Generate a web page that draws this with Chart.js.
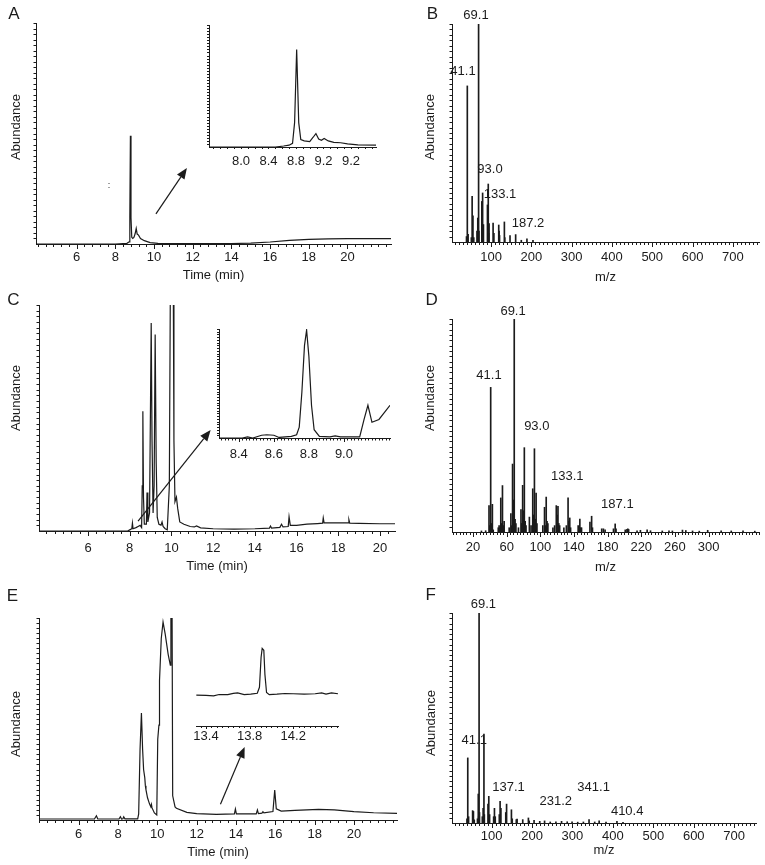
<!DOCTYPE html>
<html>
<head>
<meta charset="utf-8">
<script src="https://cdn.jsdelivr.net/npm/chart.js@4.4.1/dist/chart.umd.min.js"></script>
<style>
  html, body { margin: 0; padding: 0; background: #fff; }
  #page { position: relative; width: 765px; height: 865px; overflow: hidden; background: #fff; }
  #page canvas { position: absolute; }
</style>
</head>
<body>
<div id="page">
  <canvas id="chartA"></canvas>
  <canvas id="chartB"></canvas>
  <canvas id="chartC"></canvas>
  <canvas id="chartD"></canvas>
  <canvas id="chartE"></canvas>
  <canvas id="chartF"></canvas>
  <canvas id="insetA"></canvas>
  <canvas id="insetC"></canvas>
  <canvas id="insetE"></canvas>
</div>
<script>
// --- data (abundance in % of the axis height) ---

// A: chromatogram + inset
const aTime  = [3.9, 8.0, 8.6, 8.72, 8.75, 8.78, 8.81, 8.85, 8.9, 8.96, 9.02, 9.08, 9.13, 9.2, 9.3, 9.5, 9.8, 10.2, 12, 14, 15, 16, 17, 18, 19, 20, 22.25];
const aAbund = [0, 0, 0.3, 1, 12, 49, 12, 3, 2.5, 3, 4.5, 7, 4.5, 4, 2.5, 1.5, 0.6, 0.3, 0.2, 0.2, 0.4, 0.9, 1.6, 2.1, 2.3, 2.4, 2.4];
const aTicks = [6, 8, 10, 12, 14, 16, 18, 20];
const aInTime  = [7.535, 8.5, 8.62, 8.7, 8.75, 8.78, 8.81, 8.84, 8.87, 8.92, 9.0, 9.05, 9.09, 9.13, 9.17, 9.21, 9.27, 9.35, 9.45, 9.55, 9.7, 9.964];
const aInAbund = [0, 0, 0.8, 1.5, 3, 20, 80, 20, 6, 5, 4.5, 8, 11, 6.5, 5.5, 7, 5, 3.8, 3.5, 2.5, 1.8, 1.5];
const aInTicks  = [8.0, 8.4, 8.8, 9.2, 9.6];
const aInLabels = ['8.0', '8.4', '8.8', '9.2', '9.2'];

// B: mass spectrum
const bMz = [39, 41, 43, 51, 53, 55, 57, 65, 67, 68, 69, 70, 77, 79, 80, 81, 91, 93, 94, 95, 105, 107, 119, 120, 121, 133, 134, 147, 161, 175, 189, 204];
const bAb = [2.5, 71.6, 3.5, 2, 21, 12, 2, 5, 11, 3, 100, 5, 18.6, 22.5, 4, 8, 17, 26.6, 4, 8.4, 8.7, 4, 7.8, 5, 3, 9.2, 2, 3, 3.4, 0.8, 1.4, 0.8];
const bTicks = [100, 200, 300, 400, 500, 600, 700];
const bPeakText = ['69.1', '41.1', '93.0', '133.1', '187.2'];
const bPeakX = [62.6, 30.3, 97.3, 122.2, 191.7];
const bPeakY = [104.1, 78.4, 33.5, 22, 8.7];

// C: chromatogram + inset
const cTime  = [3.65, 7.9, 8.0, 8.1, 8.13, 8.16, 8.3, 8.4, 8.5, 8.57, 8.6, 8.63, 8.66, 8.7, 8.8, 8.83, 8.87, 8.95, 9.0, 9.03, 9.07, 9.12, 9.17, 9.22, 9.27, 9.32, 9.4, 9.5, 9.55, 9.6, 9.7, 9.8, 9.9, 9.96, 10.08, 10.12, 10.17, 10.24, 10.3, 10.4, 10.6, 10.9, 11.1, 11.2, 11.4, 12, 13, 14, 14.7, 14.75, 14.8, 15.2, 15.28, 15.35, 15.6, 15.64, 15.7, 16, 16.5, 17, 17.25, 17.28, 17.32, 18, 18.48, 18.51, 18.55, 19, 20, 20.72];
const cAbund = [0, 0, 0.5, 1, 3.5, 1, 1.5, 2, 2.5, 1.5, 20, 53, 15, 3, 3, 17, 4, 8, 60, 92, 40, 8, 20, 87, 30, 6, 3, 2.6, 4, 2, 1, 0.5, 20, 130, 130, 40, 13, 15, 10, 4, 3, 2, 1.8, 2.2, 1.4, 1, 0.8, 1, 1.3, 2.2, 1.3, 1.6, 3, 1.8, 2, 6.3, 2.5, 2.5, 3, 3.3, 3.5, 5.8, 3.6, 3.6, 3.6, 5, 3.5, 3.4, 3.2, 3.2];
const cTicks = [6, 8, 10, 12, 14, 16, 18, 20];
const cInTime  = [8.287, 8.42, 8.45, 8.48, 8.53, 8.56, 8.6, 8.63, 8.7, 8.73, 8.745, 8.76, 8.775, 8.787, 8.8, 8.815, 8.83, 8.86, 8.92, 8.95, 8.98, 9.09, 9.115, 9.137, 9.16, 9.2, 9.263];
const cInAbund = [0, 0, 1, 0, 2.5, 3, 2.5, 0.5, 1.5, 3, 10, 42, 85, 99, 75, 30, 7.6, 1.5, 1, 2, 1, 1, 17, 30, 14.4, 17, 30];
const cInTicks  = [8.4, 8.6, 8.8, 9.0];
const cInLabels = ['8.4', '8.6', '8.8', '9.0'];

// D: mass spectrum
const dMz = [30, 35, 39, 40, 41, 42, 43, 44, 50, 51, 52, 53, 54, 55, 56, 57, 63, 65, 66, 67, 68, 69, 70, 71, 74, 77, 78, 79, 80, 81, 82, 83, 87, 89, 91, 92, 93, 94, 95, 96, 103, 105, 106, 107, 108, 109, 115, 117, 119, 120, 121, 122, 123, 128, 131, 133, 134, 135, 136, 145, 147, 148, 149, 159, 161, 162, 173, 175, 177, 187, 189, 190, 201, 203, 204, 205, 215, 219, 227, 231, 245, 253, 257, 269, 273, 281, 289, 299, 315, 327, 341, 355];
const dAb = [0.5, 0.6, 12.4, 3, 67.9, 4, 13, 1, 2, 3, 2, 16, 4, 21.8, 3, 5, 2, 8.6, 3, 31.9, 15, 100, 6, 4, 2, 10.5, 4, 21.9, 10, 39.6, 5, 3, 7, 3, 20.3, 8, 39.1, 6, 18.3, 4, 3, 11.6, 3, 16.4, 5, 4, 2, 3, 12.4, 8, 12, 4, 3, 2, 3, 16, 5, 6.6, 2, 3, 6.1, 2, 2, 4.7, 7.4, 2, 1.5, 1.5, 1, 1.5, 3.8, 1.5, 1, 1.2, 1.5, 1.2, 0.6, 0.8, 1, 0.6, 0.5, 0.6, 0.5, 0.9, 0.7, 0.5, 0.4, 0.8, 0.5, 0.5, 0.5, 0.4];
const dTicks = [20, 60, 100, 140, 180, 220, 260, 300];
const dPeakText = ['69.1', '41.1', '93.0', '133.1', '187.1'];
const dPeakX = [67.6, 39.0, 95.8, 132.1, 191.6];
const dPeakY = [103.7, 73.7, 49.6, 26.1, 13.0];

// E: chromatogram + inset
const eTime  = [3.98, 6.8, 6.9, 6.97, 8.05, 8.12, 8.18, 8.25, 8.29, 8.35, 9.0, 9.05, 9.12, 9.19, 9.25, 9.3, 9.36, 9.39, 9.42, 9.5, 9.6, 9.67, 9.7, 9.73, 9.85, 9.97, 10.02, 10.08, 10.1, 10.11, 10.2, 10.29, 10.4, 10.55, 10.66, 10.69, 10.74, 10.78, 10.9, 10.97, 11.5, 12, 13, 13.92, 13.97, 14.02, 15.03, 15.09, 15.14, 15.32, 15.37, 15.42, 15.88, 15.97, 16.05, 16.3, 17, 18.2, 19, 20, 21, 22.19];
const eAbund = [0.5, 0.5, 2.1, 0.5, 0.5, 1.6, 0.5, 0.6, 1.6, 0.6, 0.6, 3, 35, 53, 35, 25, 21, 17, 15, 11, 8, 6.5, 7.7, 6, 3.5, 2.5, 40, 47, 47, 69, 90, 98, 92, 82, 76.6, 130, 130, 12, 6.5, 5.8, 3.8, 3.2, 2.8, 3, 5.4, 3, 3, 5, 3.2, 3.4, 4.1, 3.5, 4.2, 14.8, 5.5, 4.4, 4.8, 5.3, 5, 4.1, 3.6, 3.3];
const eTicks = [6, 8, 10, 12, 14, 16, 18, 20];
const eInTime  = [13.31, 13.4, 13.47, 13.52, 13.6, 13.65, 13.69, 13.75, 13.81, 13.87, 13.89, 13.905, 13.915, 13.93, 13.94, 13.955, 13.98, 14.05, 14.125, 14.2, 14.3, 14.4, 14.46, 14.5, 14.55, 14.61];
const eInAbund = [36, 35.5, 35, 36.6, 36.5, 38, 38.5, 36.5, 37, 38, 45, 80, 90.3, 88, 60, 39, 36.5, 37, 37.8, 37.5, 37, 37.5, 38.5, 37, 38.5, 37.5];
const eInTicks  = [13.4, 13.8, 14.2];
const eInLabels = ['13.4', '13.8', '14.2'];

// F: mass spectrum
const fMz = [39, 41, 43, 53, 55, 57, 65, 67, 68, 69, 70, 77, 79, 81, 82, 91, 93, 95, 105, 107, 109, 119, 121, 123, 135, 137, 149, 151, 161, 163, 177, 191, 193, 205, 219, 231, 245, 259, 273, 287, 299, 313, 327, 341, 355, 366, 383, 410, 425];
const fAb = [2, 31, 3, 5.9, 5.5, 1.5, 2, 13.8, 3, 100, 5, 3, 7, 42.4, 4, 9, 12.7, 4, 3, 7, 3, 4, 10.3, 7, 5, 9, 6.3, 2, 1.6, 1.9, 1.6, 2.4, 1, 1.3, 0.8, 1, 0.5, 0.6, 0.8, 0.6, 0.5, 0.4, 0.5, 1.6, 0.5, 1, 0.4, 0.8, 0.3];
const fTicks = [100, 200, 300, 400, 500, 600, 700];
const fPeakText = ['69.1', '41.1', '137.1', '231.2', '341.1', '410.4'];
const fPeakX = [79.7, 57, 141.9, 258.7, 352.3, 435.3];
const fPeakY = [104, 39.3, 17, 10.3, 17, 5.3];

// --- style ---
const INK = '#1b1b1b';
const FONT = '"Liberation Sans", Arial, sans-serif';
Chart.defaults.font.family = FONT;
Chart.defaults.font.size = 13;
Chart.defaults.color = INK;

// tick marks, arrows, peak labels and page texts
const extras = {
    id: 'extras',
    afterDraw(chart, args, o) {
        const ctx = chart.ctx, a = chart.chartArea, x = chart.scales.x, y = chart.scales.y;
        ctx.save();
        ctx.strokeStyle = INK;
        ctx.fillStyle = INK;
        ctx.lineWidth = 1;

        ctx.beginPath();
        if (o.xStep) {
            const n0 = Math.ceil(x.min / o.xStep - 1e-6), n1 = Math.floor(x.max / o.xStep + 1e-6);
            for (let n = n0; n <= n1; n++) {
                const px = Math.round(x.getPixelForValue(n * o.xStep)) + 0.5;
                ctx.moveTo(px, a.bottom);
                ctx.lineTo(px, a.bottom + o.xLen);
            }
            x.ticks.forEach(t => {
                const px = Math.round(x.getPixelForValue(t.value)) + 0.5;
                ctx.moveTo(px, a.bottom);
                ctx.lineTo(px, a.bottom + o.xMajor);
            });
        }
        if (o.yStep) {
            const n1 = Math.floor(y.max / o.yStep + 1e-6);
            for (let n = 1; n <= n1; n++) {
                const py = Math.round(y.getPixelForValue(n * o.yStep)) + 0.5;
                ctx.moveTo(a.left, py);
                ctx.lineTo(a.left - o.yLen, py);
            }
        }
        ctx.stroke();

        if (o.arrow) {
            const x0 = x.getPixelForValue(o.arrow[0]), y0 = y.getPixelForValue(o.arrow[1]);
            const x1 = x.getPixelForValue(o.arrow[2]), y1 = y.getPixelForValue(o.arrow[3]);
            const ang = Math.atan2(y1 - y0, x1 - x0), len = 11, half = 4.5;
            const bx = x1 - len * Math.cos(ang), by = y1 - len * Math.sin(ang);
            ctx.beginPath();
            ctx.lineWidth = 1.2;
            ctx.moveTo(x0, y0);
            ctx.lineTo(bx, by);
            ctx.stroke();
            ctx.beginPath();
            ctx.moveTo(x1, y1);
            ctx.lineTo(bx + half * Math.sin(ang), by - half * Math.cos(ang));
            ctx.lineTo(bx - half * Math.sin(ang), by + half * Math.cos(ang));
            ctx.closePath();
            ctx.fill();
        }

        ctx.textAlign = 'center';
        ctx.textBaseline = 'middle';
        if (o.peaks) {
            ctx.font = '13px ' + FONT;
            o.peaks.text.forEach((s, i) => {
                ctx.fillText(s, x.getPixelForValue(o.peaks.x[i]), y.getPixelForValue(o.peaks.y[i]));
            });
        }
        (o.texts || []).forEach(t => {
            ctx.save();
            ctx.translate(t.x - o.box.x, t.y - o.box.y);
            if (t.rot) ctx.rotate(-Math.PI / 2);
            ctx.font = t.font;
            ctx.fillText(t.text, 0, 0);
            ctx.restore();
        });
        ctx.restore();
    }
};

function trace(xs, ys) {
    return { type: 'line', data: xs.map((t, i) => ({ x: t, y: ys[i] })), borderColor: INK, borderWidth: 1.2,
             pointRadius: 0, tension: 0, fill: false };
}
function sticks(xs, ys) {
    return { type: 'bar', data: xs.map((m, i) => ({ x: m, y: ys[i] })), backgroundColor: INK, barThickness: 1, borderWidth: 0 };
}
function letter(s, x, y) { return { text: s, x: x, y: y, font: '17px ' + FONT }; }
function yTitle(x, y) { return { text: 'Abundance', x: x, y: y, rot: true, font: '13px ' + FONT }; }

function makeChart(id, c) {
    const cv = document.getElementById(id);
    cv.width = c.box.w;
    cv.height = c.box.h;
    cv.style.left = c.box.x + 'px';
    cv.style.top = c.box.y + 'px';
    return new Chart(cv, {
        type: c.type,
        data: { datasets: c.datasets },
        options: {
            responsive: false,
            animation: false,
            devicePixelRatio: 1,
            layout: { padding: { left: 0, bottom: 0, top: c.plot.t - c.box.y, right: c.box.x + c.box.w - c.plot.r } },
            plugins: {
                legend: { display: false },
                tooltip: { enabled: false },
                extras: Object.assign({ box: c.box }, c.extras)
            },
            scales: {
                x: {
                    type: 'linear', min: c.xMin, max: c.xMax, offset: false,
                    border: { display: true, color: INK, width: 1 },
                    grid: { display: false, drawTicks: false },
                    ticks: {
                        autoSkip: false, maxRotation: 0, padding: c.tickPad, color: INK, font: { size: 13 },
                        callback: (v, i) => c.tickLabels[i]
                    },
                    afterBuildTicks: s => { s.ticks = c.tickVals.map(v => ({ value: v })); },
                    afterFit: s => { s.height = c.box.y + c.box.h - c.plot.b; },
                    title: { display: !!c.xTitle, text: c.xTitle || '', color: INK, font: { size: 13 }, padding: { top: 0, bottom: 0 } }
                },
                y: {
                    min: 0, max: 100,
                    border: { display: c.yAxis !== false, color: INK, width: 1 },
                    grid: { display: false, drawTicks: false },
                    ticks: { display: false },
                    afterFit: s => { s.width = c.plot.l - c.box.x; }
                }
            }
        },
        plugins: [extras]
    });
}

const str = a => a.map(String);

// --- panel A ---
makeChart('chartA', {
    type: 'line', box: { x: 0, y: 0, w: 400, h: 283 }, plot: { l: 36, t: 23, r: 391, b: 244 },
    xMin: 3.9, xMax: 22.25, tickVals: aTicks, tickLabels: str(aTicks), tickPad: 6, xTitle: 'Time (min)',
    datasets: [trace(aTime, aAbund)],
    extras: { xStep: 0.4, xLen: 3, xMajor: 5, yStep: 2.5, yLen: 2.5, arrow: [10.10, 13.6, 11.70, 34.4],
              texts: [letter('A', 13.8, 14), yTitle(16.7, 127), { text: ':', x: 109, y: 186, font: '9px ' + FONT }] }
});
makeChart('insetA', {
    type: 'line', box: { x: 200, y: 20, w: 180, h: 155 }, plot: { l: 209, t: 25, r: 376, b: 147 },
    xMin: 7.535, xMax: 9.964, tickVals: aInTicks, tickLabels: aInLabels, tickPad: 6.5,
    datasets: [trace(aInTime, aInAbund)],
    extras: { xStep: 0.1, xLen: 2, xMajor: 2, yStep: 2.5, yLen: 2 }
});

// --- panel B ---
makeChart('chartB', {
    type: 'bar', box: { x: 400, y: 0, w: 365, h: 285 }, plot: { l: 452, t: 24, r: 759, b: 242 },
    xMin: 3, xMax: 765, tickVals: bTicks, tickLabels: str(bTicks), tickPad: 8, xTitle: 'm/z',
    datasets: [sticks(bMz, bAb)],
    extras: { xStep: 10, xLen: 3, xMajor: 5, yStep: 2.5, yLen: 2.5,
              peaks: { text: bPeakText, x: bPeakX, y: bPeakY },
              texts: [letter('B', 432.5, 14), yTitle(430, 127)] }
});

// --- panel C ---
makeChart('chartC', {
    type: 'line', box: { x: 0, y: 285, w: 400, h: 289 }, plot: { l: 39, t: 305, r: 395, b: 531 },
    xMin: 3.65, xMax: 20.72, tickVals: cTicks, tickLabels: str(cTicks), tickPad: 9.5, xTitle: 'Time (min)',
    datasets: [trace(cTime, cAbund)],
    extras: { xStep: 0.4, xLen: 3, xMajor: 5, yStep: 2.5, yLen: 2.5, arrow: [8.40, 4.4, 11.88, 44.7],
              texts: [letter('C', 13.3, 300.7), yTitle(16.7, 398)] }
});
makeChart('insetC', {
    type: 'line', box: { x: 210, y: 322, w: 185, h: 145 }, plot: { l: 219, t: 329, r: 390, b: 438 },
    xMin: 8.287, xMax: 9.263, tickVals: cInTicks, tickLabels: cInLabels, tickPad: 9,
    datasets: [trace(cInTime, cInAbund)],
    extras: { xStep: 0.02, xLen: 2.5, xMajor: 4, yStep: 2.5, yLen: 2 }
});

// --- panel D ---
makeChart('chartD', {
    type: 'bar', box: { x: 400, y: 285, w: 365, h: 290 }, plot: { l: 452, t: 319, r: 759, b: 532 },
    xMin: -5, xMax: 360, tickVals: dTicks, tickLabels: str(dTicks), tickPad: 8, xTitle: 'm/z',
    datasets: [sticks(dMz, dAb)],
    extras: { xStep: 4, xLen: 3, xMajor: 5, yStep: 2.5, yLen: 2.5,
              peaks: { text: dPeakText, x: dPeakX, y: dPeakY },
              texts: [letter('D', 431.7, 300.7), yTitle(430, 398)] }
});

// --- panel E ---
makeChart('chartE', {
    type: 'line', box: { x: 0, y: 580, w: 400, h: 280 }, plot: { l: 39, t: 618, r: 397, b: 820 },
    xMin: 3.98, xMax: 22.19, tickVals: eTicks, tickLabels: str(eTicks), tickPad: 7, xTitle: 'Time (min)',
    datasets: [trace(eTime, eAbund)],
    extras: { xStep: 0.4, xLen: 3, xMajor: 5, yStep: 2.5, yLen: 2.5, arrow: [13.21, 7.8, 14.44, 36.2],
              texts: [letter('E', 12.5, 596.7), yTitle(16.7, 724)] }
});
makeChart('insetE', {
    type: 'line', box: { x: 190, y: 630, w: 152, h: 120 }, plot: { l: 195, t: 640, r: 338, b: 726 },
    xMin: 13.31, xMax: 14.61, tickVals: eInTicks, tickLabels: eInLabels, tickPad: 3, yAxis: false,
    datasets: [trace(eInTime, eInAbund)],
    extras: { xStep: 0.05, xLen: 2, xMajor: 3 }
});

// --- panel F ---
makeChart('chartF', {
    type: 'bar', box: { x: 400, y: 580, w: 365, h: 278 }, plot: { l: 452, t: 613, r: 756, b: 823 },
    xMin: 2, xMax: 754, tickVals: fTicks, tickLabels: str(fTicks), tickPad: 5.5, xTitle: 'm/z',
    datasets: [sticks(fMz, fAb)],
    extras: { xStep: 10, xLen: 3, xMajor: 5, yStep: 2.5, yLen: 2.5,
              peaks: { text: fPeakText, x: fPeakX, y: fPeakY },
              texts: [letter('F', 430.8, 595), yTitle(431.7, 723)] }
});
</script>
</body>
</html>
